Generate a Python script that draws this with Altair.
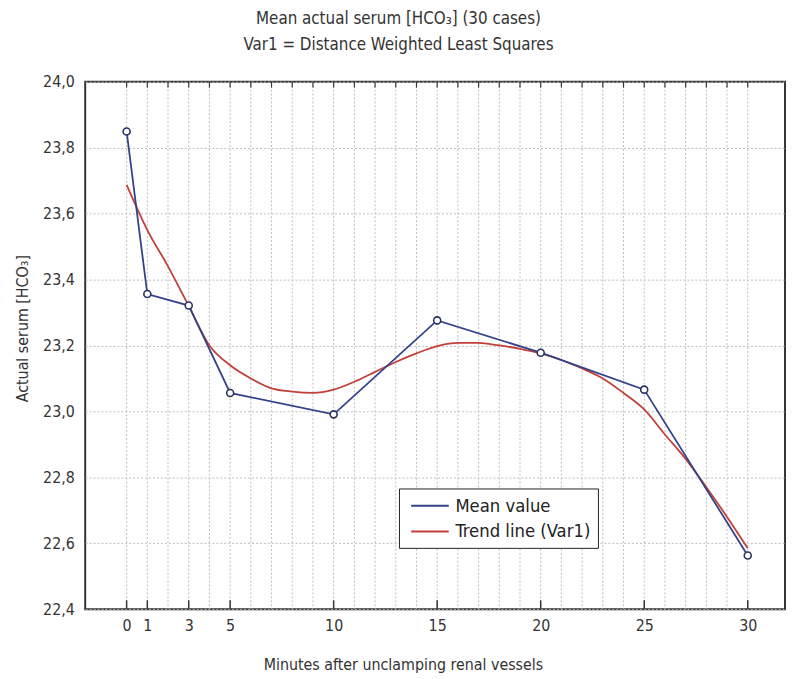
import altair as alt
import pandas as pd

# ---- data ----
minutes = [0, 1, 3, 5, 10, 15, 20, 25, 30]
mean_values = [23.849, 23.356, 23.321, 23.056, 22.991, 23.276, 23.178, 23.066, 22.563]

trend_minutes = list(range(0, 31))
trend_values = [23.687, 23.55, 23.44, 23.32, 23.20, 23.14, 23.10, 23.07, 23.06, 23.056,
                23.066, 23.09, 23.12, 23.15, 23.176, 23.198, 23.208, 23.208, 23.20, 23.19,
                23.176, 23.156, 23.13, 23.10, 23.056, 23.006, 22.93, 22.856, 22.77, 22.68,
                22.585]

y_ticks = [22.4, 22.6, 22.8, 23.0, 23.2, 23.4, 23.6, 23.8, 24.0]
x_grid = list(range(0, 31))

series_names = ["Mean value", "Trend line (Var1)"]
series_colors = ["#34428a", "#c0403a"]

FONT = "'Liberation Sans Narrow', 'Arial Narrow', 'DejaVu Sans Condensed', 'Liberation Sans', sans-serif"
W, H = 707, 533

mean_df = pd.DataFrame({"x": minutes, "y": mean_values, "series": series_names[0]})
trend_df = pd.DataFrame({"x": trend_minutes, "y": trend_values, "series": series_names[1]})
bottom_ticks_df = pd.DataFrame({"x": minutes})
grid_df = pd.DataFrame({"x": x_grid})

x_scale = alt.Scale(domain=[-2, 31.8], nice=False, zero=False)
y_scale = alt.Scale(domain=[22.4, 24.0], nice=False, zero=False)

x_axis = alt.Axis(
    title="Minutes after unclamping renal vessels",
    values=minutes,
    grid=False,
    ticks=False,
    domain=False,
    labelOverlap=False,
    labelFlush=False,
    labelPadding=8,
    titlePadding=24,
    titleX=321,
)
y_axis = alt.Axis(
    title="Actual serum [HCO₃]",
    values=y_ticks,
    grid=True,
    ticks=False,
    domain=False,
    labelOverlap=False,
    labelFlush=False,
    labelExpr="replace(format(datum.value, '.1f'), '.', ',')",
    labelPadding=11,
    titlePadding=12,
    titleY=249,
)

color = alt.Color(
    "series:N",
    scale=alt.Scale(domain=series_names, range=series_colors),
    legend=alt.Legend(
        title=None,
        orient="none",
        legendX=317,
        legendY=411,
        symbolType="M-2.44,0H1.56",
        symbolSize=361,
        symbolOffset=18,
        symbolStrokeWidth=2,
        labelFontSize=18.5,
        labelFont=FONT,
        labelColor="#222",
        labelOffset=11,
        rowPadding=6,
        padding=7,
        strokeColor="#222",
        fillColor="white",
        cornerRadius=0,
    ),
)

vgrid = alt.Chart(grid_df).mark_rule(color="#bdbdbd", strokeWidth=1, strokeDash=[2, 2]).encode(
    x=alt.X("x:Q", scale=x_scale, axis=x_axis),
    y=alt.value(0),
    y2=alt.value(H),
)

trend = alt.Chart(trend_df).mark_line(strokeWidth=1.8, interpolate="monotone").encode(
    x=alt.X("x:Q", scale=x_scale, axis=x_axis),
    y=alt.Y("y:Q", scale=y_scale, axis=y_axis),
    color=color,
)

mean_line = alt.Chart(mean_df).mark_line(strokeWidth=1.8).encode(
    x=alt.X("x:Q", scale=x_scale, axis=x_axis),
    y=alt.Y("y:Q", scale=y_scale, axis=y_axis),
    color=color,
)

points = alt.Chart(mean_df).mark_point(
    shape="circle", filled=True, fill="white", stroke="#2a3160", strokeWidth=1.6, size=50, opacity=1
).encode(
    x=alt.X("x:Q", scale=x_scale, axis=x_axis),
    y=alt.Y("y:Q", scale=y_scale, axis=y_axis),
)

bottom_ticks = alt.Chart(bottom_ticks_df).mark_rule(color="#333", strokeWidth=1.5).encode(
    x=alt.X("x:Q", scale=x_scale, axis=x_axis),
    y=alt.value(H - 9),
    y2=alt.value(H),
)

top_ticks = alt.Chart(grid_df).mark_rule(color="#333", strokeWidth=1.2).encode(
    x=alt.X("x:Q", scale=x_scale, axis=x_axis),
    y=alt.value(0),
    y2=alt.value(6),
)

chart = alt.layer(vgrid, trend, mean_line, points, bottom_ticks, top_ticks).properties(
    width=W,
    height=H,
    background="white",
    autosize=alt.AutoSizeParams(type="none"),
    padding={"left": 78, "top": 71, "right": 1, "bottom": 63},
    title=alt.TitleParams(
        text=["Mean actual serum [HCO₃] (30 cases)", "Var1 = Distance Weighted Least Squares"],
        font=FONT,
        fontSize=17,
        fontWeight="normal",
        color="#333",
        lineHeight=26,
        anchor="middle",
        dx=-37,
        offset=20,
    ),
).configure_view(
    stroke="#333", strokeWidth=2
).configure_axis(
    labelFont=FONT,
    titleFont=FONT,
    labelFontSize=16,
    titleFontSize=16,
    titleFontWeight="normal",
    labelColor="#333",
    titleColor="#333",
    gridColor="#bdbdbd",
    gridDash=[2, 2],
    gridWidth=1,
)

chart.save("out.html", embed_options={"renderer": "svg", "actions": False})
